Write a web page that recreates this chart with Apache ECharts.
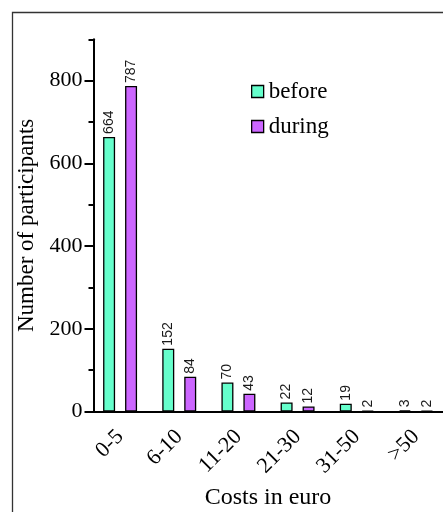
<!DOCTYPE html>
<html>
<head>
<meta charset="utf-8">
<script src="https://cdn.jsdelivr.net/npm/echarts@6/dist/echarts.min.js"></script>
<style>html,body{margin:0;padding:0;background:#fff;}#c{width:443px;height:512px;}</style>
</head>
<body>
<div id="c"></div>
<script>
var categories = ['0-5', '6-10', '11-20', '21-30', '31-50', '>50'];
var before = [664, 152, 70, 22, 19, 3];
var during = [787, 84, 43, 12, 2, 2];
var majorTicks = [0, 200, 400, 600, 800];
var minorTicks = [100, 300, 500, 700, 900];

var serif = '"Liberation Serif", "Times New Roman", serif';
var sans = '"Liberation Sans", Arial, sans-serif';
var chart = echarts.init(document.getElementById('c'));

function labelCfg() {
  return {
    show: true, position: 'top', rotate: 90, align: 'left', verticalAlign: 'middle',
    distance: 3, fontFamily: sans, fontSize: 14, color: '#1a1a1a'
  };
}

chart.setOption({
  animation: false,
  backgroundColor: '#fff',
  graphic: [{
    type: 'rect', shape: {x: 12.5, y: 12.5, width: 470, height: 530},
    style: {fill: 'none', stroke: '#333', lineWidth: 1.3}, silent: true
  }],
  grid: {left: 90.5, right: -2.5, top: 39.3, bottom: 100.5, outerBoundsMode: 'none', containLabel: false},
  legend: {
    orient: 'vertical', left: 251, top: 80, padding: 0, itemWidth: 12, itemHeight: 12, itemGap: 12,
    icon: 'rect',
    itemStyle: {borderColor: '#000', borderWidth: 1.3},
    textStyle: {fontFamily: serif, fontSize: 23, color: '#000', lineHeight: 23},
    data: ['before', 'during']
  },
  xAxis: {
    type: 'category', data: categories,
    axisLine: {lineStyle: {color: '#000', width: 2}},
    axisTick: {alignWithLabel: true, length: 8, lineStyle: {color: '#000', width: 2}},
    axisLabel: {rotate: 45, fontFamily: serif, fontSize: 22, color: '#000', margin: 22},
    name: 'Costs in euro', nameLocation: 'middle', nameGap: 74,
    nameTextStyle: {fontFamily: serif, fontSize: 24, color: '#000'}
  },
  yAxis: [{
    type: 'value', min: 0, max: 900, interval: 100, offset: -3,
    splitLine: {show: false},
    axisLine: {show: true, lineStyle: {color: '#000', width: 2}},
    axisTick: {show: true, length: 9, customValues: majorTicks, lineStyle: {color: '#000', width: 2}},
    axisLabel: {customValues: majorTicks, fontFamily: serif, fontSize: 22, color: '#000', margin: 11},
    name: 'Number of participants', nameLocation: 'middle', nameGap: 48,
    nameTextStyle: {fontFamily: serif, fontSize: 23, color: '#000'}
  }, {
    type: 'value', min: 0, max: 900, interval: 100, offset: -3, position: 'left',
    splitLine: {show: false},
    axisLine: {show: false},
    axisTick: {show: true, length: 5, customValues: minorTicks, lineStyle: {color: '#000', width: 2}},
    axisLabel: {show: false}
  }],
  series: [{
    name: 'before', type: 'bar', data: before, barWidth: 12, barGap: '83%',
    itemStyle: {color: '#66FFCC', borderColor: '#000', borderWidth: 1.3},
    label: labelCfg()
  }, {
    name: 'during', type: 'bar', data: during, barWidth: 12,
    itemStyle: {color: '#CC66FF', borderColor: '#000', borderWidth: 1.3},
    label: labelCfg()
  }]
});
</script>
</body>
</html>
